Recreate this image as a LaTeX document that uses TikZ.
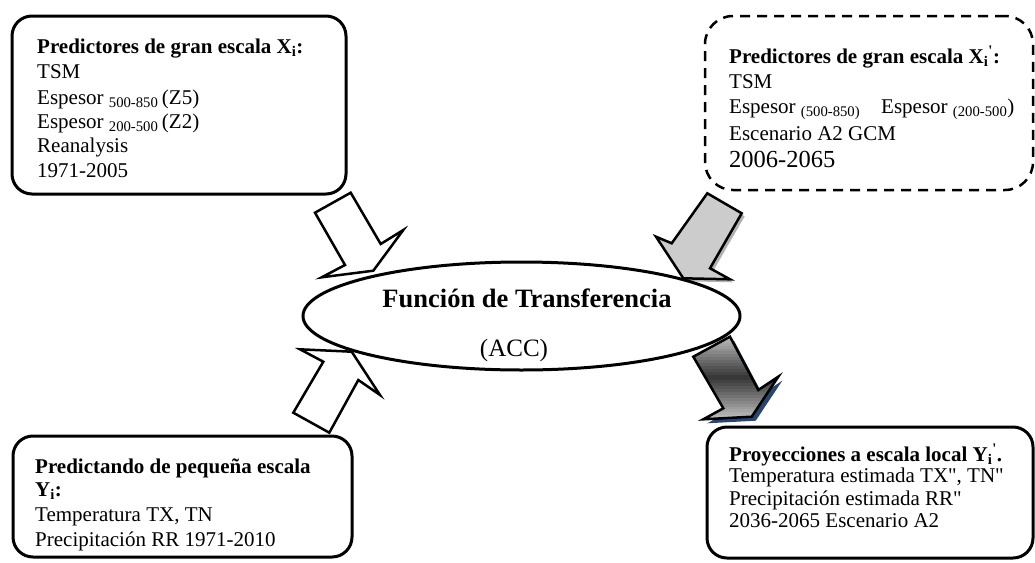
\documentclass[tikz,border=0pt]{standalone}
\usepackage{fontspec}
\setmainfont{Liberation Serif}[Ligatures=TeXOff]
\usetikzlibrary{shapes.geometric}
\tikzset{
  box/.style={draw, line width=3pt, rounded corners=20pt, inner sep=0, fill=white},
  dbox/.style={draw, line width=2.5pt, rounded corners=28pt, inner sep=0, dash pattern=on 10pt off 7pt},
  txt/.style={anchor=base west, inner sep=0, font=\fontsize{21}{25}\selectfont},
  ttl/.style={txt, font=\fontsize{21}{25}\selectfont\bfseries},
  blockarrow/.style={draw, line width=2.5pt, line join=miter},
}
\begin{document}
\begin{tikzpicture}[x=1pt,y=-1pt]
\useasboundingbox (0,0) rectangle (1035,562);
% boxes
\node[box, minimum width=334pt, minimum height=178pt] (b1) at (179,105) {};
\node[dbox, minimum width=328pt, minimum height=174pt] (b2) at (869,103) {};
\node[box, minimum width=339pt, minimum height=121pt] (b3) at (182.5,496.5) {};
\node[box, minimum width=326pt, minimum height=131pt] (b4) at (870,492.5) {};
% block arrows
\draw[blockarrow, fill=white] (315,212.7) -- (350.7,192.7) -- (380.7,244) -- (403.3,230) -- (373.3,270.7) -- (321.7,277.3) -- (345,265) -- cycle;
\draw[blockarrow, fill=white] (293.3,412.7) -- (329.3,432.7) -- (358.3,380) -- (380,395) -- (351.7,351.7) -- (300,349.3) -- (323.3,361.7) -- cycle;
\fill[gray!60, shift={(3pt,-3pt)}] (707.3,193.3) -- (741.7,213.3) -- (710,268.3) -- (730,279.3) -- (683.3,278.3) -- (656,236.7) -- (671.7,243.3) -- cycle;
\draw[blockarrow, fill=black!20] (707.3,193.3) -- (741.7,213.3) -- (710,268.3) -- (730,279.3) -- (683.3,278.3) -- (656,236.7) -- (671.7,243.3) -- cycle;
\fill[fill={rgb,255:red,40;green,70;blue,110}, shift={(4pt,-4pt)}] (693.3,356.7) -- (730,336.7) -- (758.3,390) -- (778.3,376.7) -- (751.7,416.7) -- (703.3,419.3) -- (723.3,408.3) -- cycle;
\begin{scope}
\clip (693.3,356.7) -- (730,336.7) -- (758.3,390) -- (778.3,376.7) -- (751.7,416.7) -- (703.3,419.3) -- (723.3,408.3) -- cycle;
\foreach \i in {0,...,29} {
  \pgfmathsetmacro{\shadeval}{22+58*(1-abs(2*(\i+0.5)/30-1))}
  \fill[black!\shadeval] (680,{334+\i*2.9}) rectangle (790,{334+(\i+1)*2.9+0.6});
}
\end{scope}
\draw[blockarrow] (693.3,356.7) -- (730,336.7) -- (758.3,390) -- (778.3,376.7) -- (751.7,416.7) -- (703.3,419.3) -- (723.3,408.3) -- cycle;
% central ellipse
\node[ellipse, draw, line width=3pt, fill=white, minimum width=437pt, minimum height=108pt, inner sep=0] (fun) at (521.5,316) {};
\node[anchor=base, inner sep=0, font=\fontsize{26.5}{30}\selectfont\bfseries] (funt) at (527,307) {Función de Transferencia};
\node[anchor=base, inner sep=0, font=\fontsize{25}{30}\selectfont] (acc) at (514,356) {(ACC)};
% box 1 text
\node[ttl] (t1a) at (37,53) {Predictores de gran escala X\textsubscript{i}:};
\node[txt] (t1b) at (37,78) {TSM};
\node[txt] (t1c) at (37,104) {Espesor \textsubscript{500-850}\,(Z5)};
\node[txt] (t1d) at (37,128) {Espesor \textsubscript{200-500}\,(Z2)};
\node[txt] (t1e) at (37,152) {Reanalysis};
\node[txt] (t1f) at (37,177) {1971-2005};
% box 2 text
\node[ttl] (t2a) at (729,63) {Predictores de gran escala X\textsubscript{i}\textsuperscript{'}:};
\node[txt] (t2b) at (729,88) {TSM};
\node[txt] (t2c) at (729,113) {Espesor \textsubscript{(500-850)}\quad Espesor \textsubscript{(200-500})};
\node[txt] (t2d) at (729,140) {Escenario A2 GCM};
\node[txt, font=\fontsize{24.5}{28}\selectfont] (t2e) at (729,167) {2006-2065};
% box 3 text
\node[ttl] (t3a) at (35,473) {Predictando de pequeña escala};
\node[ttl] (t3b) at (35,496) {Y\textsubscript{i}:};
\node[txt] (t3c) at (35,521) {Temperatura TX, TN};
\node[txt] (t3d) at (35,546) {Precipitación RR 1971-2010};
% box 4 text
\node[ttl] (t4a) at (729,461) {Proyecciones a escala local Y\textsubscript{i}\textsuperscript{'}.};
\node[txt] (t4b) at (729,482) {Temperatura estimada TX", TN"};
\node[txt] (t4c) at (729,505) {Precipitación estimada RR"};
\node[txt] (t4d) at (729,527) {2036-2065 Escenario A2};
\end{tikzpicture}
\end{document}
